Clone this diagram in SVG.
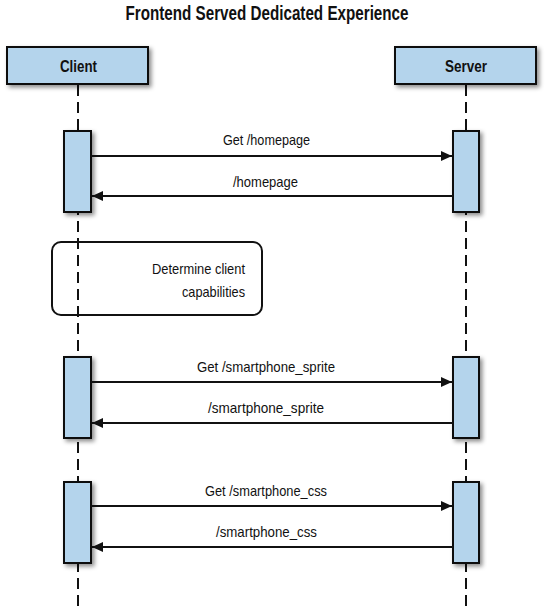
<svg xmlns="http://www.w3.org/2000/svg" width="550" height="612" viewBox="0 0 550 612">
<style>
text{font-family:"Liberation Sans",Arial,sans-serif;fill:#111}
.title{font-size:20.5px;font-weight:bold}
.actor{font-size:17px;font-weight:bold}
.lbl{font-size:15px}
.box{fill:#b4d4ec;stroke:#111;stroke-width:2}
.act{fill:#b4d4ec;stroke:#111;stroke-width:2}
.life{stroke:#111;stroke-width:2;stroke-dasharray:11 6;fill:none}
.msg{stroke:#111;stroke-width:2;fill:none}
.note{fill:none;stroke:#111;stroke-width:2}
</style>
<defs>
<filter id="sh" x="-30%" y="-30%" width="160%" height="160%">
<feDropShadow dx="2.5" dy="2.5" stdDeviation="2" flood-color="#000" flood-opacity="0.45"/>
</filter>
<marker id="ah" markerUnits="userSpaceOnUse" markerWidth="12" markerHeight="10" refX="11" refY="5" orient="auto">
<path d="M0,0 L11,5 L0,10 Z" fill="#111"/>
</marker>
</defs>
<text class="title" x="267" y="20" text-anchor="middle" textLength="283" lengthAdjust="spacingAndGlyphs">Frontend Served Dedicated Experience</text>
<g id="lifelines">
<line class="life" x1="78" y1="85" x2="78" y2="612"/>
<line class="life" x1="466" y1="85" x2="466" y2="612"/>
</g>
<g id="client">
<rect class="box" x="7" y="47" width="141" height="37" filter="url(#sh)"/>
<text class="actor" x="78.5" y="72" text-anchor="middle" textLength="37" lengthAdjust="spacingAndGlyphs">Client</text>
</g>
<g id="server">
<rect class="box" x="395" y="47" width="141" height="37" filter="url(#sh)"/>
<text class="actor" x="466" y="72" text-anchor="middle" textLength="42" lengthAdjust="spacingAndGlyphs">Server</text>
</g>
<g id="activations">
<rect class="act" x="64" y="131" width="27" height="81" filter="url(#sh)"/>
<rect class="act" x="453" y="131" width="26" height="81" filter="url(#sh)"/>
<rect class="act" x="64" y="357" width="27" height="81" filter="url(#sh)"/>
<rect class="act" x="453" y="357" width="26" height="81" filter="url(#sh)"/>
<rect class="act" x="64" y="482" width="27" height="81" filter="url(#sh)"/>
<rect class="act" x="453" y="482" width="26" height="81" filter="url(#sh)"/>
</g>
<g id="note">
<rect class="note" x="52" y="242" width="210" height="73" rx="9"/>
<text class="lbl" x="245" y="274" text-anchor="end" textLength="93" lengthAdjust="spacingAndGlyphs">Determine client</text>
<text class="lbl" x="245" y="297" text-anchor="end" textLength="63" lengthAdjust="spacingAndGlyphs">capabilities</text>
</g>
<g id="connectors">
<line class="msg" x1="91" y1="156" x2="452" y2="156" marker-end="url(#ah)"/>
<line class="msg" x1="453" y1="196" x2="92" y2="196" marker-end="url(#ah)"/>
<line class="msg" x1="91" y1="382" x2="452" y2="382" marker-end="url(#ah)"/>
<line class="msg" x1="453" y1="423" x2="92" y2="423" marker-end="url(#ah)"/>
<line class="msg" x1="91" y1="506" x2="452" y2="506" marker-end="url(#ah)"/>
<line class="msg" x1="453" y1="547" x2="92" y2="547" marker-end="url(#ah)"/>
<text class="lbl" x="266.5" y="145" text-anchor="middle" textLength="87" lengthAdjust="spacingAndGlyphs">Get /homepage</text>
<text class="lbl" x="265.5" y="187" text-anchor="middle" textLength="65" lengthAdjust="spacingAndGlyphs">/homepage</text>
<text class="lbl" x="266" y="372" text-anchor="middle" textLength="138" lengthAdjust="spacingAndGlyphs">Get /smartphone_sprite</text>
<text class="lbl" x="266" y="413" text-anchor="middle" textLength="116" lengthAdjust="spacingAndGlyphs">/smartphone_sprite</text>
<text class="lbl" x="266" y="496" text-anchor="middle" textLength="122" lengthAdjust="spacingAndGlyphs">Get /smartphone_css</text>
<text class="lbl" x="266.5" y="537" text-anchor="middle" textLength="101" lengthAdjust="spacingAndGlyphs">/smartphone_css</text>
</g>
</svg>
